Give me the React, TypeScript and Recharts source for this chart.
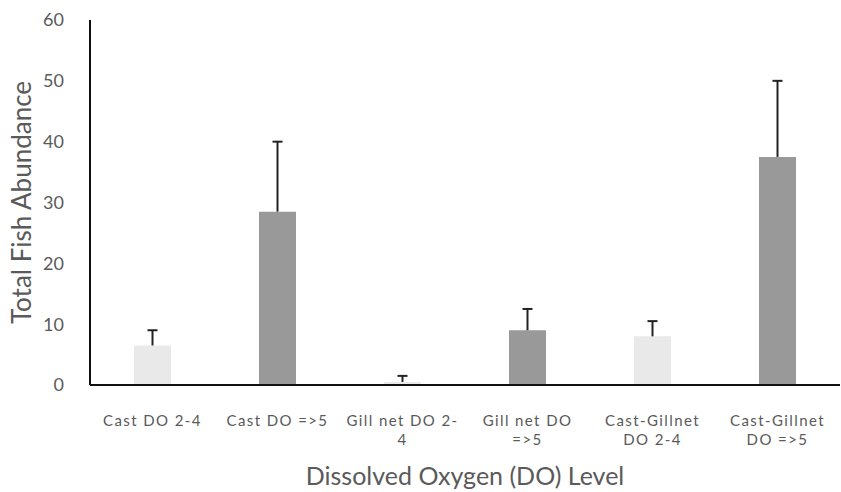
import React from 'react';
import { BarChart, Bar, XAxis, YAxis, Cell, Label } from 'recharts';

const CATEGORIES = [
  'Cast DO 2-4',
  'Cast DO =>5',
  'Gill net DO 2-|4',
  'Gill net DO|=>5',
  'Cast-Gillnet|DO 2-4',
  'Cast-Gillnet|DO =>5',
];
const MEANS = [6.5, 28.5, 0.5, 9, 8, 37.5];
const ERRORS = [2.5, 11.5, 1, 3.5, 2.5, 12.5];
const Y_TICKS = [0, 10, 20, 30, 40, 50, 60];

const data = CATEGORIES.map((name, i) => ({
  name,
  value: MEANS[i],
  err: ERRORS[i],
}));

const LIGHT = '#e9e9e9';
const DARK = '#999999';
const TEXT = '#5a5a5a';
const FONT = 'Lato, "Open Sans", sans-serif';

const CatTick = (props: any) => {
  const { x, y, payload } = props;
  const lines = String(payload.value).split('|');
  return (
    <text x={x} y={y} textAnchor="middle" fill={TEXT} fontSize={15} letterSpacing={1.4} fontFamily={FONT}>
      {lines.map((l, i) => (
        <tspan key={i} x={x} dy={i === 0 ? 33 : 19}>
          {l}
        </tspan>
      ))}
    </text>
  );
};

// upper whisker only: stacked on top of the mean bar
const Whisker = (props: any) => {
  const { x, y, width, height } = props;
  if (height == null) return null;
  const cx = x + width / 2;
  return (
    <g stroke="#222" strokeWidth={2}>
      <line x1={cx} x2={cx} y1={y + height} y2={y} />
      <line x1={cx - 5} x2={cx + 5} y1={y} y2={y} />
    </g>
  );
};

export default function App() {
  return (
    <div style={{ position: 'absolute', left: 0, top: 0, background: '#fff' }}>
      <BarChart
        width={841}
        height={492}
        data={data}
        margin={{ top: 20, right: 1, bottom: 0, left: 0 }}
        barCategoryGap={44}
      >
        <XAxis
          dataKey="name"
          tick={<CatTick />}
          tickLine={false}
          axisLine={{ stroke: '#111', strokeWidth: 2 }}
          interval={0}
          height={107}
        >
          <Label
            value="Dissolved Oxygen (DO) Level"
            position="insideBottom"
            offset={7}
            fill={TEXT}
            fontSize={25}
            fontFamily={FONT}
          />
        </XAxis>
        <YAxis
          domain={[0, 60]}
          ticks={Y_TICKS}
          tickLine={false}
          axisLine={{ stroke: '#111', strokeWidth: 2 }}
          width={90}
          tickMargin={20}
          tick={{ fill: TEXT, fontSize: 18, fontFamily: FONT }}
        >
          <Label
            value="Total Fish Abundance"
            angle={-90}
            position="insideLeft"
            offset={22}
            fill={TEXT}
            fontSize={26}
            fontFamily={FONT}
            style={{ textAnchor: 'middle' }}
          />
        </YAxis>
        <Bar dataKey="value" stackId="a" isAnimationActive={false}>
          {data.map((d, i) => (
            <Cell key={d.name} fill={i % 2 === 0 ? LIGHT : DARK} />
          ))}
        </Bar>
        <Bar dataKey="err" stackId="a" isAnimationActive={false} shape={<Whisker />} />
      </BarChart>
    </div>
  );
}
